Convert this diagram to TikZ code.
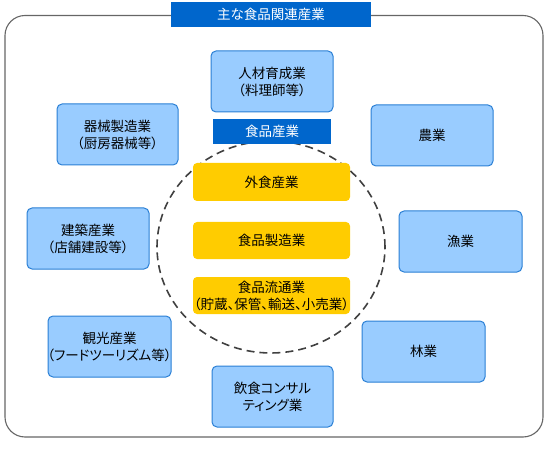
\documentclass[tikz,border=0pt]{standalone}
\usepackage{fontspec}
\setmainfont{Noto Sans CJK JP}[RawFeature=+palt]
\usetikzlibrary{shapes.geometric}
\definecolor{boxblue}{HTML}{99CCFF}
\definecolor{boxedge}{HTML}{2A7FD4}
\definecolor{titleblue}{HTML}{0066CC}
\definecolor{foodyellow}{HTML}{FFCC00}
\definecolor{framegray}{HTML}{666666}
\definecolor{dashgray}{HTML}{404040}
\tikzset{
  px/.style={x=1pt,y=-1pt},
  txt/.style={font=\fontsize{13.5}{17}\selectfont, align=center, inner sep=0pt},
  bluebox/.style={draw=boxedge, fill=boxblue, line width=1pt, rounded corners=5pt},
  yellowbox/.style={fill=foodyellow, rounded corners=4pt},
  titlebox/.style={fill=titleblue},
}
\begin{document}
\begin{tikzpicture}[px]
\useasboundingbox (0,0) rectangle (550,452);
% outer frame
\draw[framegray, line width=1.1pt, rounded corners=20pt] (5,15.5) rectangle (543,437) ;
% title
\fill[titlebox] (171,2) rectangle (371,27);
\node[txt, text=white] (title) at (271,14.5) {主な食品関連産業};
% ellipse
\node[ellipse, draw=dashgray, line width=1.6pt, dash pattern=on 8pt off 5pt,
      minimum width=228pt, minimum height=212pt, inner sep=0pt] (ring) at (271,247) {};
% food industry label
\fill[titlebox] (213,119) rectangle (331,144);
\node[txt, text=white] (food) at (272,131.5) {食品産業};
% yellow boxes
\fill[yellowbox] (193,163) rectangle (350,201);
\node[txt] (gaishoku) at (271.5,182) {外食産業};
\fill[yellowbox] (193,222) rectangle (350,259);
\node[txt] (seizo) at (271.5,240.5) {食品製造業};
\fill[yellowbox] (193,277) rectangle (350,314);
\node[txt] (ryutsu) at (271.5,295.5) {食品流通業\\（貯蔵、保管、輸送、小売業）};
% blue boxes
\draw[bluebox] (211,51) rectangle (333,112);
\node[txt] (jinzai) at (272,81.5) {人材育成業\\（料理師等）};
\draw[bluebox] (57,104) rectangle (178,165);
\node[txt] (kikai) at (117.5,134.5) {器械製造業\\（厨房器械等）};
\draw[bluebox] (27,208) rectangle (149,269);
\node[txt] (kenchiku) at (88,238.5) {建築産業\\（店舗建設等）};
\draw[bluebox] (48,316) rectangle (171,377);
\node[txt] (kanko) at (109.5,346.5) {観光産業\\（フードツーリズム等）};
\draw[bluebox] (212,366) rectangle (333,427);
\node[txt] (consul) at (272.5,396.5) {飲食コンサル\\ティング業};
\draw[bluebox] (371,105) rectangle (493,166);
\node[txt] (nogyo) at (432,135.5) {農業};
\draw[bluebox] (399,211) rectangle (522,272);
\node[txt] (gyogyo) at (460.5,241.5) {漁業};
\draw[bluebox] (362,321) rectangle (485,382);
\node[txt] (ringyo) at (423.5,351.5) {林業};
\end{tikzpicture}
\end{document}
